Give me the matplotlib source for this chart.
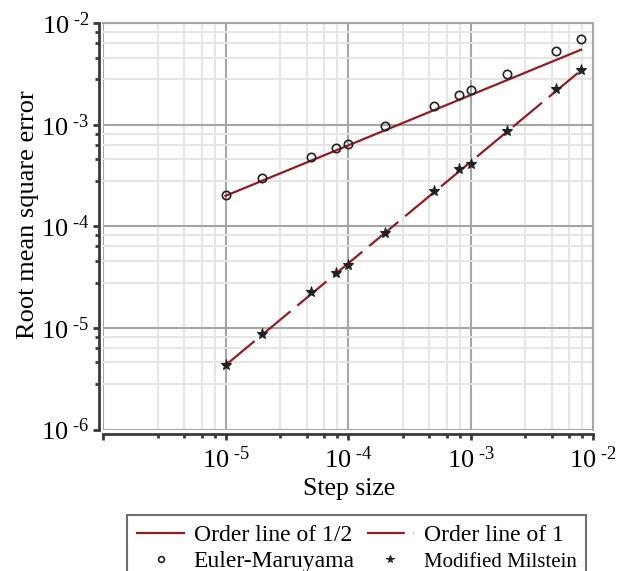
import matplotlib
matplotlib.use("Agg")
import matplotlib.pyplot as plt
from matplotlib.ticker import FixedLocator, NullFormatter, FixedFormatter

plt.rcParams['font.family'] = ['Liberation Serif', 'DejaVu Serif']
plt.rcParams['mathtext.fontset'] = 'custom'
plt.rcParams['mathtext.rm'] = 'Liberation Serif'
plt.rcParams['mathtext.it'] = 'Liberation Serif:italic'
plt.rcParams['mathtext.bf'] = 'Liberation Serif:bold'

# ---- data ----
step_sizes = [1e-5, 2e-5, 5e-5, 8e-5, 1e-4, 2e-4, 5e-4, 8e-4, 1e-3, 2e-3, 5e-3, 8e-3]
euler_rmse = [2.05e-4, 2.98e-4, 4.82e-4, 5.94e-4, 6.5e-4, 9.8e-4, 1.54e-3, 1.98e-3,
              2.18e-3, 3.19e-3, 5.36e-3, 6.98e-3]
milstein_rmse = [4.3e-6, 8.7e-6, 2.24e-5, 3.5e-5, 4.14e-5, 8.58e-5, 2.24e-4, 3.65e-4,
                 4.15e-4, 8.79e-4, 2.25e-3, 3.47e-3]
order_x = [1e-5, 8e-3]
order_half_y = [2.0e-4, 5.5e-3]
order_one_y = [4.3e-6, 3.45e-3]

x_ticks = [1e-6, 1e-5, 1e-4, 1e-3, 1e-2]
x_tick_labels = ['', r'$\mathregular{10^{\text{ -5}}}$', r'$\mathregular{10^{\text{ -4}}}$',
                 r'$\mathregular{10^{\text{ -3}}}$', r'$\mathregular{10^{\text{ -2}}}$']
y_ticks = [1e-6, 1e-5, 1e-4, 1e-3, 1e-2]
y_tick_labels = [r'$\mathregular{10^{\text{ -6}}}$', r'$\mathregular{10^{\text{ -5}}}$',
                 r'$\mathregular{10^{\text{ -4}}}$', r'$\mathregular{10^{\text{ -3}}}$',
                 r'$\mathregular{10^{\text{ -2}}}$']
minor_mult = [2.8, 4.6, 6.4, 8.2]

labels = ['Order line of 1/2', 'Euler-Maruyama', 'Order line of 1', 'Modified Milstein']

RED = '#951b23'
MAJ = '#a6a6a6'
MIN = '#e4e4e4'

fig = plt.figure(figsize=(6.18, 5.71), dpi=100)
W, H = 618, 571
ax = fig.add_axes([103 / W, 1 - 429.5 / H, 490 / W, (429.5 - 23.3) / H])
ax.set_xscale('log')
ax.set_yscale('log')
ax.set_xlim(1e-6, 1e-2)
ax.set_ylim(1e-6, 1e-2)

minors = [m * 10.0 ** e for e in range(-6, -2) for m in minor_mult]
ax.xaxis.set_major_locator(FixedLocator(x_ticks))
ax.xaxis.set_major_formatter(FixedFormatter(x_tick_labels))
ax.yaxis.set_major_locator(FixedLocator(y_ticks))
ax.yaxis.set_major_formatter(FixedFormatter(y_tick_labels))
ax.xaxis.set_minor_locator(FixedLocator(minors))
ax.yaxis.set_minor_locator(FixedLocator(minors))
ax.xaxis.set_minor_formatter(NullFormatter())
ax.yaxis.set_minor_formatter(NullFormatter())

ax.grid(True, which='minor', color=MIN, lw=1.3, zorder=0)
ax.grid(True, which='major', color=MAJ, lw=1.5, zorder=0.5)
ax.set_axisbelow(True)

for s in ['left', 'bottom']:
    ax.spines[s].set_color('#3a3a3a')
    ax.spines[s].set_linewidth(2.0)
    ax.spines[s].set_position(('outward', 3))
for s in ['top', 'right']:
    ax.spines[s].set_color(MAJ)
    ax.spines[s].set_linewidth(1.5)

ax.tick_params(which='major', direction='out', length=4, width=2, color='#3a3a3a',
               labelsize=19, pad=3)
ax.tick_params(axis='x', which='major', pad=5)
ax.tick_params(which='minor', direction='out', length=3, width=2, color='#3a3a3a')
ax.tick_params(top=False, right=False, which='both')

l1, = ax.plot(order_x, order_half_y, color=RED, lw=1.6, zorder=3)
l2, = ax.plot(order_x, order_one_y, color=RED, lw=1.6, ls=(0, (17, 4)), zorder=3)
m1, = ax.plot(step_sizes, euler_rmse, ls='none', marker='o', ms=6, mfc='none',
              mec='#222222', mew=1.2, zorder=4)
m2, = ax.plot(step_sizes, milstein_rmse, ls='none', marker='*', ms=8, mfc='#222222',
              mec='#222222', mew=0.8, zorder=4)

ax.set_xlabel('Step size', fontsize=18.5)
ax.set_ylabel('Root mean square error', fontsize=19)
ax.xaxis.set_label_coords(0.502, -0.12)
ax.yaxis.set_label_coords(-0.13, 0.53)

leg = fig.legend([l1, m1, l2, m2], labels, ncol=2, loc='upper left',
                 bbox_to_anchor=(127 / W, 1 - 515 / H), borderaxespad=0,
                 fontsize=17, handlelength=2.0, handletextpad=0.4,
                 columnspacing=0.52, borderpad=0.42, labelspacing=0.18,
                 markerscale=0.7, fancybox=False, framealpha=1)
leg.get_frame().set_edgecolor('#707070')
leg.get_frame().set_linewidth(1.5)
leg.get_texts()[3].set_fontsize(15)

fig.savefig('out.png', dpi=100)
